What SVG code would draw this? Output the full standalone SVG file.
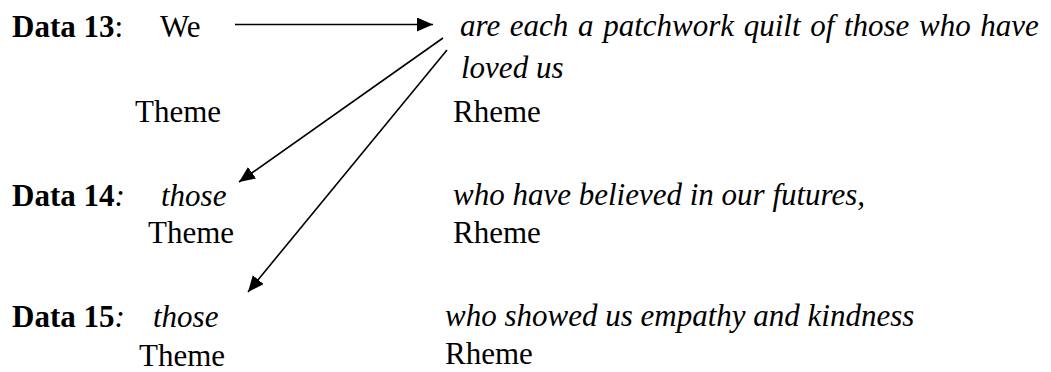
<svg xmlns="http://www.w3.org/2000/svg" width="1051" height="372" viewBox="0 0 1051 372">
<style>
text{font-family:"Liberation Serif","Times New Roman",serif;font-size:31px;fill:#000}
.b{font-weight:bold}
.i{font-style:italic}
.n{font-weight:normal}
.c{stroke:#000;stroke-width:1.6;fill:none}
</style>
<defs>
<marker id="ah" markerWidth="16" markerHeight="14" refX="16" refY="7" orient="auto" markerUnits="userSpaceOnUse">
<path d="M0,0 L16,7 L0,14 Z" fill="#000"/>
</marker>
</defs>
<rect width="1051" height="372" fill="#fff"/>
<g id="data13">
<text x="12" y="36.5"><tspan class="b">Data 13</tspan><tspan class="n">:</tspan></text>
<text id="we" x="160" y="36.5">We</text>
<text id="rheme13-text" class="i" x="460" y="35.5" style="word-spacing:1.9px">are each a patchwork quilt of those who have</text>
<text class="i" x="461" y="77.5">loved us</text>
<text x="135" y="122">Theme</text>
<text x="453" y="122">Rheme</text>
</g>
<g id="data14">
<text x="12" y="206"><tspan class="b">Data 14</tspan><tspan class="i">:</tspan></text>
<text class="i" x="161" y="206">those</text>
<text class="i" x="453" y="205">who have believed in our futures,</text>
<text x="148" y="243">Theme</text>
<text x="453" y="243">Rheme</text>
</g>
<g id="data15">
<text x="12" y="327"><tspan class="b">Data 15</tspan><tspan class="i">:</tspan></text>
<text class="i" x="153" y="327">those</text>
<text class="i" x="445" y="326">who showed us empathy and kindness</text>
<text x="139" y="366">Theme</text>
<text x="445" y="364">Rheme</text>
</g>
<g id="connectors">
<line class="c" x1="235" y1="24.5" x2="433" y2="24.5" marker-end="url(#ah)"/>
<line class="c" x1="443" y1="38" x2="239" y2="182" marker-end="url(#ah)"/>
<line class="c" x1="447" y1="50" x2="248" y2="292" marker-end="url(#ah)"/>
</g>
</svg>
